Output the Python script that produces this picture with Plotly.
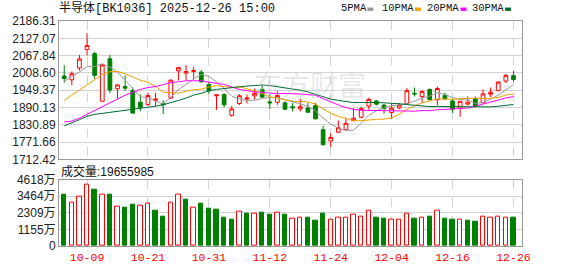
import plotly.graph_objects as go
import pandas as pd

# ---------------- data ----------------
dates = ["09-26", "09-29", "09-30",
         "10-09", "10-10", "10-13", "10-14", "10-15", "10-16", "10-17", "10-20",
         "10-21", "10-22", "10-23", "10-24", "10-27", "10-28", "10-29", "10-30",
         "10-31", "11-03", "11-04", "11-05", "11-06", "11-07", "11-10", "11-11",
         "11-12", "11-13", "11-14", "11-17", "11-18", "11-19", "11-20", "11-21",
         "11-24", "11-25", "11-26", "11-27", "11-28", "12-01", "12-02", "12-03",
         "12-04", "12-05", "12-08", "12-09", "12-10", "12-11", "12-12", "12-15",
         "12-16", "12-17", "12-18", "12-19", "12-22", "12-23", "12-24", "12-25",
         "12-26"]

opens = [1998.1, 1985.0, 2025.5, 2089.0, 2074.8, 1911.6, 2057.2, 1954.3, 1962.0, 1947.8,
         1908.4, 1900.7, 1914.9, 1904.0, 1922.6, 2015.6, 2008.0, 2013.4, 2011.3, 1968.6,
         1930.2, 1934.6, 1863.5, 1904.0, 1919.3, 1930.2, 1952.1, 1909.5, 1908.4, 1906.2,
         1893.0, 1885.4, 1888.6, 1897.4, 1814.2, 1775.9, 1805.5, 1814.2, 1844.9, 1856.9,
         1895.2, 1912.7, 1898.5, 1873.3, 1888.6, 1904.0, 1939.0, 1928.1, 1952.1, 1917.1,
         1932.4, 1912.7, 1888.6, 1901.8, 1920.4, 1906.2, 1935.7, 1947.8, 1980.6, 1999.2]
highs = [2035.3, 2013.4, 2070.4, 2144.8, 2081.3, 2037.5, 2070.4, 1968.5, 2000.3, 1958.7,
         1934.6, 1941.2, 1940.1, 1914.9, 1986.0, 2029.9, 2035.3, 2029.9, 2018.9, 1977.3,
         1934.0, 1939.0, 1895.2, 1936.8, 1934.6, 1955.4, 1968.6, 1934.6, 1945.6, 1911.6,
         1906.2, 1920.4, 1906.2, 1906.2, 1827.3, 1802.2, 1846.0, 1854.7, 1887.6, 1893.0,
         1923.7, 1914.9, 1901.8, 1904.0, 1906.2, 1956.5, 1958.7, 1947.8, 1955.4, 1962.0,
         1941.2, 1920.4, 1912.0, 1928.1, 1928.1, 1952.1, 1958.7, 1980.9, 2004.7, 2015.6]
lows = [1975.0, 1966.4, 2016.7, 2068.2, 1988.3, 1910.5, 1939.0, 1920.4, 1947.8, 1869.5,
        1877.7, 1895.2, 1895.2, 1867.9, 1920.5, 1982.8, 1982.8, 1986.1, 1975.1, 1936.8,
        1882.1, 1890.8, 1858.0, 1898.5, 1904.0, 1917.1, 1922.6, 1884.3, 1899.6, 1882.1,
        1876.6, 1876.6, 1871.1, 1850.0, 1761.0, 1754.0, 1804.5, 1813.5, 1844.0, 1854.7,
        1882.1, 1897.4, 1868.9, 1851.4, 1884.3, 1903.0, 1928.1, 1906.2, 1914.9, 1897.4,
        1917.1, 1871.1, 1858.0, 1897.4, 1893.0, 1905.0, 1925.9, 1945.6, 1973.7, 1978.5]
closes = [1989.4, 2005.8, 2056.1, 2102.1, 2000.3, 2036.4, 1950.0, 1967.5, 1956.5, 1871.1,
          1890.8, 1931.3, 1919.3, 1899.6, 1983.9, 2026.6, 2013.4, 2016.7, 1978.4, 1947.8,
          1933.5, 1899.6, 1885.4, 1930.2, 1922.6, 1939.0, 1925.9, 1906.2, 1931.3, 1884.3,
          1889.6, 1893.0, 1874.4, 1851.4, 1762.8, 1787.9, 1820.8, 1836.1, 1853.6, 1886.5,
          1918.2, 1901.8, 1886.5, 1888.0, 1898.5, 1947.8, 1936.8, 1945.6, 1917.1, 1955.4,
          1919.3, 1884.3, 1911.6, 1908.4, 1895.2, 1936.8, 1942.3, 1977.3, 2000.3, 1986.1]
prev_close_before = 2010.0

volumes = [35660000, 30100000, 34120000, 42820000, 39000000, 35460000, 35660000, 27430000,
           26970000, 28970000, 28300000, 29440000, 24300000, 20290000, 30100000, 35460000,
           32330000, 26760000, 29660000, 26300000, 25640000, 20070000, 18280000, 24080000,
           22300000, 22750000, 23420000, 21630000, 23420000, 21630000, 18730000, 20070000,
           19400000, 17620000, 22300000, 18060000, 19400000, 19400000, 22080000, 20740000,
           24750000, 19400000, 18950000, 18060000, 18060000, 22750000, 18950000, 19400000,
           20290000, 24750000, 18950000, 18280000, 18060000, 17620000, 16940000, 20740000,
           19400000, 20740000, 20070000, 19655985]

# moving averages: the start of each line (history before the window)
ma5_head = [1980.0, 1995.0, 2012.0, 2030.0]
ma10_head = [1915.0, 1934.0, 1950.0, 1967.0, 1986.0, 2004.0, 2013.0, 2013.5, 2006.0]
ma20_head = [1840.5, 1843.8, 1853.6, 1866.8, 1880.0, 1893.1, 1906.2, 1919.3, 1932.5, 1942.3,
             1952.2, 1958.7, 1962.0, 1968.6, 1975.1, 1978.4, 1981.7, 1981.7, 1981.7]
ma30_head = [1827.4, 1837.2, 1848.7, 1860.2, 1866.8, 1870.1, 1873.3, 1876.6, 1879.9, 1883.2,
             1886.5, 1889.8, 1894.7, 1899.6, 1906.2, 1914.4, 1922.6, 1932.5, 1939.0, 1947.2,
             1952.2, 1955.4, 1958.7, 1962.0, 1963.7, 1965.3, 1967.0, 1965.3, 1962.0]

price_ticks = [1712.42, 1771.66, 1830.89, 1890.13, 1949.37, 2008.60, 2067.84, 2127.07, 2186.31]
vol_ticks = [0, 11550000, 23090000, 34640000, 46180000]
vol_tick_text = ["0", "1155万", "2309万", "3464万", "4618万"]
date_ticks = ["10-09", "10-21", "10-31", "11-12", "11-24", "12-04", "12-16", "12-26"]

title_text = "半导体[BK1036] 2025-12-26 15:00"
ma_names = ["5PMA", "10PMA", "20PMA", "30PMA"]

# ---------------- styles ----------------
RED = "#FF0000"
GREEN = "#008000"
MA_COLORS = ["#999999", "#F0A000", "#FF00FF", "#006A33"]
GRID = "#D3D3D3"
FRAME = "#999999"
MONO = "Liberation Mono, Noto Sans CJK SC, monospace"
SANS = "Liberation Sans, Arial, Noto Sans CJK SC, sans-serif"

W, H = 578, 276
L, R, T, B = 55, 522, 21, 255


def px_x(p):
    return (p - L) / (R - L)


def px_y(p):
    return (B - p) / (B - T)


close_s = pd.Series(closes)


def build_ma(n, head):
    rolled = close_s.rolling(n).mean().tolist()
    return head + rolled[len(head):]


mas = [build_ma(5, ma5_head), build_ma(10, ma10_head),
       build_ma(20, ma20_head), build_ma(30, ma30_head)]

prev = [prev_close_before] + closes[:-1]
vol_up = [c >= p for c, p in zip(closes, prev)]
vol_fill = ["white" if u else GREEN for u in vol_up]
vol_line = [RED if u else GREEN for u in vol_up]

fig = go.Figure()

for name, ma, col in zip(ma_names, mas, MA_COLORS):
    fig.add_trace(go.Scatter(x=dates, y=ma, mode="lines", name=name,
                             line=dict(color=col, width=1),
                             xaxis="x2", yaxis="y2", hoverinfo="skip"))

fig.add_trace(go.Candlestick(
    x=dates, open=opens, high=highs, low=lows, close=closes,
    increasing=dict(line=dict(color=RED, width=1), fillcolor="white"),
    decreasing=dict(line=dict(color=GREEN, width=1), fillcolor=GREEN),
    whiskerwidth=0, xaxis="x2", yaxis="y2", hoverinfo="skip"))

fig.add_trace(go.Bar(x=dates, y=volumes, width=0.58,
                     marker=dict(color=vol_fill, line=dict(color=vol_line, width=1)),
                     xaxis="x", yaxis="y", hoverinfo="skip"))

xrange = [-0.685, 60.12]
common_x = dict(type="category", categoryorder="array", categoryarray=dates,
                range=xrange, showgrid=True, gridcolor=GRID, griddash="dash",
                gridwidth=1, tickmode="array", tickvals=date_ticks,
                showline=True, mirror=True, linecolor=FRAME, linewidth=1,
                ticks="", zeroline=False, fixedrange=True)

fig.update_layout(
    width=W, height=H,
    margin=dict(l=L, r=W - R, t=T, b=H - B, pad=0),
    paper_bgcolor="white", plot_bgcolor="white",
    showlegend=False, hovermode=False, bargap=0,
    xaxis=dict(common_x, anchor="y", ticktext=date_ticks,
               tickfont=dict(family=MONO, size=11.5, color=RED)),
    xaxis2=dict(common_x, anchor="y2", matches="x", showticklabels=False),
    yaxis=dict(domain=[0, px_y(186)], range=[0, vol_ticks[-1]],
               tickmode="array", tickvals=vol_ticks, ticktext=vol_tick_text,
               tickfont=dict(family=SANS, size=12, color="#222222"),
               showgrid=True, gridcolor=GRID, showline=True, mirror=True,
               linecolor=FRAME, ticks="", zeroline=False, fixedrange=True),
    yaxis2=dict(domain=[px_y(165), 1], range=[price_ticks[0], price_ticks[-1]],
                tickmode="array", tickvals=price_ticks,
                ticktext=[f"{v:.2f}" for v in price_ticks],
                tickfont=dict(family=SANS, size=12, color="#222222"),
                showgrid=True, gridcolor=GRID, showline=True, mirror=True,
                linecolor=FRAME, ticks="", zeroline=False, fixedrange=True),
)
fig.update_xaxes(rangeslider_visible=False)

ann = []
ann.append(dict(text=title_text, xref="paper", yref="paper", x=0, y=px_y(8),
                xanchor="left", yanchor="middle", showarrow=False, xshift=-2,
                font=dict(family=MONO, size=12, color="#111111")))
ann.append(dict(text=f"成交量:{volumes[-1]}", xref="paper", yref="paper",
                x=px_x(57), y=px_y(177), xanchor="left", yanchor="middle",
                showarrow=False, xshift=-2,
                font=dict(family=SANS, size=12, color="#111111")))
ann.append(dict(text="东方财富", xref="paper", yref="paper", x=px_x(308), y=px_y(87),
                xanchor="center", yanchor="middle", showarrow=False,
                font=dict(family="Noto Sans CJK SC", size=28, color="rgba(190,190,190,0.35)")))

legend_text_x = [339, 381, 426, 472]
legend_mark_x = [366, 414, 460, 505]
shapes = []
for name, col, tx, mx in zip(ma_names, MA_COLORS, legend_text_x, legend_mark_x):
    ann.append(dict(text=name, xref="paper", yref="paper", x=px_x(tx), y=px_y(8),
                    xanchor="left", yanchor="middle", showarrow=False, xshift=-2,
                    font=dict(family=MONO, size=10.5, color="#111111")))
    shapes.append(dict(type="rect", xref="paper", yref="paper",
                       x0=px_x(mx), x1=px_x(mx + 6), y0=px_y(10.5), y1=px_y(7),
                       fillcolor=col, line=dict(width=0)))

fig.update_layout(annotations=ann, shapes=shapes)

fig.write_html("out.html")
